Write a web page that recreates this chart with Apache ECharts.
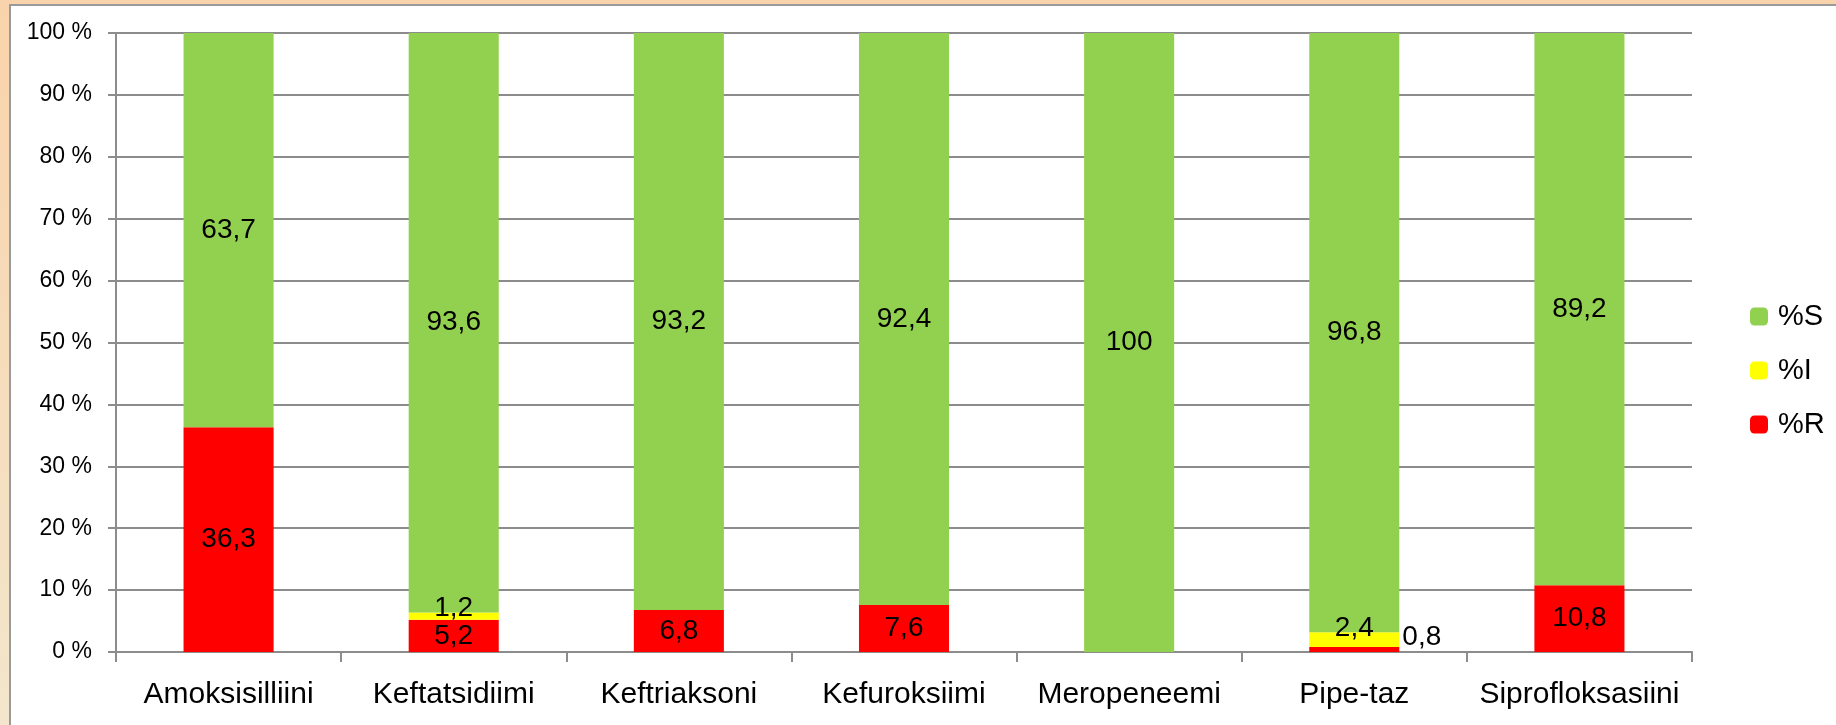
<!DOCTYPE html>
<html>
<head>
<meta charset="utf-8">
<script src="https://cdn.jsdelivr.net/npm/echarts@6/dist/echarts.min.js"></script>
<style>
  html, body {
    margin: 0;
    padding: 0;
    width: 1836px;
    height: 725px;
    overflow: hidden;
    background: linear-gradient(#f9d3ab, #f3e6cc);
  }
  .frame {
    position: absolute;
    left: 9px;
    top: 4px;
    width: 1840px;
    height: 730px;
    background: #fff;
    border-left: 2px solid #9a9a9a;
    border-top: 2px solid #9a9a9a;
  }
  #chart {
    position: absolute;
    left: 0;
    top: 0;
    width: 1836px;
    height: 725px;
  }
</style>
</head>
<body>
<div class="frame"></div>
<div id="chart"></div>
<script>
// antibiotics on the x axis
const categories = ['Amoksisilliini', 'Keftatsidiimi', 'Keftriaksoni', 'Kefuroksiimi', 'Meropeneemi', 'Pipe-taz', 'Siprofloksasiini']
// % resistant / intermediate / susceptible
const valuesR = [36.3, 5.2, 6.8, 7.6, 0, 0.8, 10.8]
const valuesI = [0, 1.2, 0, 0, 0, 2.4, 0]
const valuesS = [63.7, 93.6, 93.2, 92.4, 100, 96.8, 89.2]
const yTicks = [0, 10, 20, 30, 40, 50, 60, 70, 80, 90, 100]

const labelFont = 'Liberation Sans, Arial, sans-serif'
const gray = '#8c8c8c'

function fmt (p) {
  if (!p.value) return ''
  return String(p.value).replace('.', ',')
}

function baseLabel (pos) {
  return {
    show: true,
    position: pos,
    color: '#000',
    fontSize: 28,
    fontFamily: labelFont,
    formatter: fmt
  }
}

// the small red value of Pipe-taz sits to the right of the bar
const dataR = valuesR.map(function (v, i) {
  if (categories[i] === 'Pipe-taz') {
    return { value: v, label: { position: 'right', distance: 3, offset: [0, -12] } }
  }
  return v
})

let chart = echarts.init(document.getElementById('chart'))
chart.setOption({
  animation: false,
  textStyle: { fontFamily: labelFont },
  grid: {
    left: 116,
    right: 144,
    top: 33,
    bottom: 73
  },
  legend: {
    orient: 'vertical',
    left: 1745,
    top: 297,
    itemWidth: 18,
    itemHeight: 18,
    itemGap: 25,
    data: ['%S', '%I', '%R'],
    textStyle: {
      fontSize: 29,
      color: '#000',
      lineHeight: 29,
      padding: [0, 0, 0, 5]
    }
  },
  xAxis: {
    type: 'category',
    data: categories,
    axisLine: { lineStyle: { color: gray, width: 2 } },
    axisTick: { show: true, length: 10, lineStyle: { color: gray, width: 2 } },
    axisLabel: { interval: 0, fontSize: 30, color: '#000', margin: 28 }
  },
  yAxis: {
    type: 'value',
    min: yTicks[0],
    max: yTicks[yTicks.length - 1],
    interval: 10,
    axisLine: { show: true, lineStyle: { color: gray, width: 2 } },
    axisTick: { show: true, length: 8, lineStyle: { color: gray, width: 2 } },
    splitLine: { lineStyle: { color: gray, width: 2 } },
    axisLabel: {
      fontSize: 23,
      color: '#000',
      margin: 24,
      formatter: '{value} %'
    }
  },
  series: [
    {
      name: '%R',
      type: 'bar',
      stack: 'all',
      barCategoryGap: '60%',
      itemStyle: { color: '#ff0000' },
      label: baseLabel('inside'),
      data: dataR
    },
    {
      name: '%I',
      type: 'bar',
      stack: 'all',
      itemStyle: { color: '#ffff00' },
      label: Object.assign(baseLabel('top'), { distance: 0, offset: [0, 10] }),
      data: valuesI
    },
    {
      name: '%S',
      type: 'bar',
      stack: 'all',
      itemStyle: { color: '#92d050' },
      label: baseLabel('inside'),
      data: valuesS
    }
  ]
})
</script>
</body>
</html>
